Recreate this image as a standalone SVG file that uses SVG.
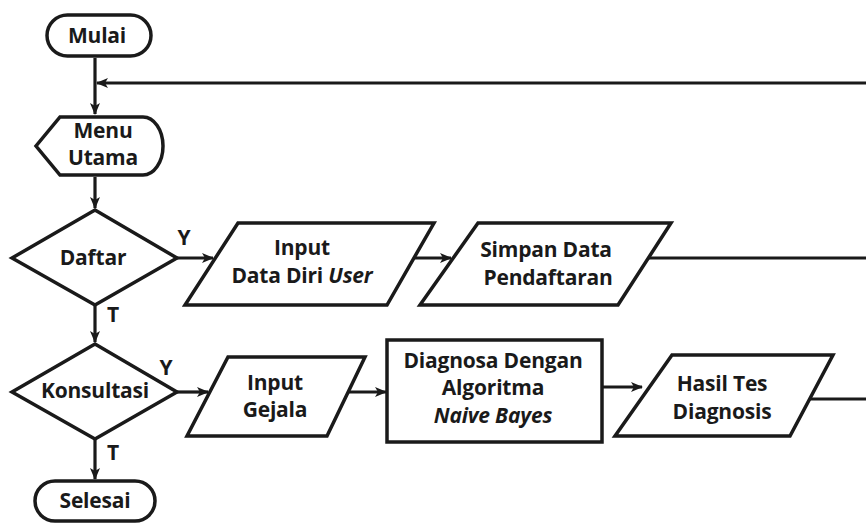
<svg xmlns="http://www.w3.org/2000/svg" width="866" height="524" viewBox="0 0 866 524">
<defs>
<style>
.s{fill:#fff;stroke:#1a1a1a;stroke-width:3.5;stroke-linejoin:miter}
.c{fill:none;stroke:#1a1a1a;stroke-width:3.2}
text{font-family:"Open Sans","Liberation Sans",sans-serif;font-weight:700;font-size:21px;fill:#1a1a1a;text-anchor:middle;letter-spacing:-0.2px}
.i{font-style:italic}
</style>
<marker id="a" viewBox="0 0 12 10" refX="11" refY="5" markerWidth="12" markerHeight="10" markerUnits="userSpaceOnUse" orient="auto">
<path d="M0,0 L12,5 L0,10 L3,5 Z" fill="#1a1a1a"/>
</marker>
</defs>
<rect width="866" height="524" fill="#fff"/>
<g id="connectors">
<path class="c" d="M95,58 V114" marker-end="url(#a)"/>
<path class="c" d="M866,83 H97" marker-end="url(#a)"/>
<path class="c" d="M95,177 V208" marker-end="url(#a)"/>
<path class="c" d="M177,258 H213" marker-end="url(#a)"/>
<path class="c" d="M412,258 H451" marker-end="url(#a)"/>
<path class="c" d="M648,258 H866"/>
<path class="c" d="M95,305 V342" marker-end="url(#a)"/>
<path class="c" d="M177,392 H208" marker-end="url(#a)"/>
<path class="c" d="M347,392 H386" marker-end="url(#a)"/>
<path class="c" d="M602,387 H642" marker-end="url(#a)"/>
<path class="c" d="M810,399 H866"/>
<path class="c" d="M95,439 V479" marker-end="url(#a)"/>
<text x="184" y="245">Y</text>
<text x="113" y="322">T</text>
<text x="166" y="375">Y</text>
<text x="113" y="460">T</text>
</g>
<g id="mulai">
<rect class="s" x="47" y="15" width="104" height="41" rx="20.5"/>
<text x="97" y="43">Mulai</text>
</g>
<g id="menu-utama">
<path class="s" d="M60,117 H143 A20,29 0 0 1 143,175 H60 L36,146 Z"/>
<text x="103" y="138">Menu</text>
<text x="103" y="165">Utama</text>
</g>
<g id="daftar">
<path class="s" d="M95,210 L177,258 L95,305 L12,258 Z"/>
<text x="93" y="265">Daftar</text>
</g>
<g id="input-data-diri">
<path class="s" d="M238,223 H434 L387,305 H185 Z"/>
<text x="302" y="255">Input</text>
<text x="302" y="283">Data Diri <tspan class="i">User</tspan></text>
</g>
<g id="simpan-data">
<path class="s" d="M478,223 H671 L618,305 H420 Z"/>
<text x="546" y="257">Simpan Data</text>
<text x="548" y="285">Pendaftaran</text>
</g>
<g id="konsultasi">
<path class="s" d="M95,344 L177,392 L95,439 L12,392 Z"/>
<text x="95" y="398">Konsultasi</text>
</g>
<g id="input-gejala">
<path class="s" d="M228,357 H365 L327,436 H187 Z"/>
<text x="275" y="390">Input</text>
<text x="275" y="417">Gejala</text>
</g>
<g id="diagnosa">
<rect class="s" x="387" y="340" width="215" height="102"/>
<text x="493" y="368">Diagnosa Dengan</text>
<text x="493" y="395">Algoritma</text>
<text x="493" y="423" class="i">Naive Bayes</text>
</g>
<g id="hasil-tes">
<path class="s" d="M672,355 H833 L790,436 H615 Z"/>
<text x="722" y="391">Hasil Tes</text>
<text x="722" y="419">Diagnosis</text>
</g>
<g id="selesai">
<rect class="s" x="35" y="481" width="120" height="40" rx="20"/>
<text x="95" y="508">Selesai</text>
</g>
</svg>
